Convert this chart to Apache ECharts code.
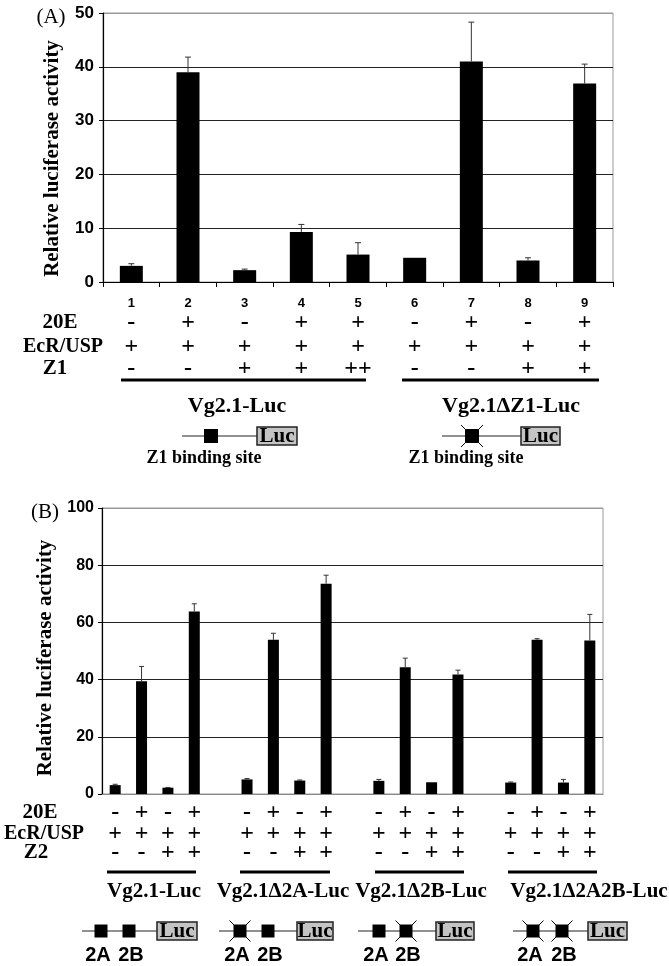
<!DOCTYPE html>
<html><head><meta charset="utf-8">
<script src="https://cdn.jsdelivr.net/npm/echarts@6/dist/echarts.min.js"></script>
<style>html,body{margin:0;padding:0;background:#fff}#c{width:669px;height:966px}</style>
</head><body><div id="c"></div>
<script>
// ---------- Panel A data ----------
const lanesA = ['1','2','3','4','5','6','7','8','9'];
const valuesA = [3.0, 39.0, 2.2, 9.3, 5.1, 4.5, 41.0, 4.0, 36.9];
const errorsA = [0.4, 2.8, 0.2, 1.4, 2.2, 0, 7.3, 0.5, 3.6];
const row20E_A = ['-','+','-','+','+','-','+','-','+'];
const rowEcR_A = ['+','+','+','+','+','+','+','+','+'];
const rowZ1_A  = ['-','-','+','+','++','-','-','+','+'];
const constructsA = ['Vg2.1-Luc','Vg2.1ΔZ1-Luc'];
const rowNamesA = ['20E','EcR/USP','Z1'];

// ---------- Panel B data ----------
const constructsB = ['Vg2.1-Luc','Vg2.1Δ2A-Luc','Vg2.1Δ2B-Luc','Vg2.1Δ2A2B-Luc'];
const valuesB_1 = [3.1, 39.4, 2.2, 63.8];
const valuesB_2 = [5.1, 53.9, 4.7, 73.5];
const valuesB_3 = [4.6, 44.3, 4.1, 41.8];
const valuesB_4 = [4.0, 53.9, 4.0, 53.7];
const errorsB_1 = [0.3, 5.2, 0.1, 2.7];
const errorsB_2 = [0.3, 2.3, 0.2, 3.0];
const errorsB_3 = [0.5, 3.2, 0.0, 1.5];
const errorsB_4 = [0.2, 0.4, 1.1, 9.1];
const row20E_B = ['-','+','-','+'];
const rowEcR_B = ['+','+','+','+'];
const rowZ2_B  = ['-','-','+','+'];
const rowNamesB = ['20E','EcR/USP','Z2'];

// ---------- build ----------
const valuesB = [valuesB_1, valuesB_2, valuesB_3, valuesB_4];
const errorsB = [errorsB_1, errorsB_2, errorsB_3, errorsB_4];
const catsB = [], barB = [], errB = [], lab20B = [], labEcB = [], labZ2B = [];
valuesB.forEach((g, gi) => {
  if (gi > 0) { catsB.push('gap' + gi); barB.push('-'); lab20B.push(''); labEcB.push(''); labZ2B.push(''); }
  g.forEach((v, i) => {
    const idx = catsB.length;
    catsB.push('b' + gi + '_' + i);
    barB.push(v);
    if (errorsB[gi][i] > 0) errB.push([idx, v, v + errorsB[gi][i]]);
    lab20B.push(row20E_B[i]); labEcB.push(rowEcR_B[i]); labZ2B.push(rowZ2_B[i]);
  });
});
const errA = [];
valuesA.forEach((v, i) => { if (errorsA[i] > 0) errA.push([i, v, v + errorsA[i]]); });

const SERIF = 'Liberation Serif', SANS = 'Liberation Sans';

function rowAxis(gridIndex, cats, labels, offset, size, family) {
  return {
    type: 'category', gridIndex, position: 'bottom', offset, data: cats,
    axisLine: {show: false}, axisTick: {show: false}, splitLine: {show: false},
    axisLabel: {interval: 0, margin: 0, verticalAlign: 'middle', color: '#000',
      fontFamily: family || SERIF, fontWeight: 'bold', fontSize: size || 24,
      formatter: (v, i) => labels[i]}
  };
}

function errRender(cap) {
  return function (params, api) {
    const x = api.value(0);
    const p0 = api.coord([x, api.value(1)]);
    const p1 = api.coord([x, api.value(2)]);
    const st = {stroke: '#333', lineWidth: 1};
    return {type: 'group', children: [
      {type: 'line', shape: {x1: p0[0], y1: p0[1], x2: p1[0], y2: p1[1]}, style: st},
      {type: 'line', shape: {x1: p1[0] - cap, y1: p1[1], x2: p1[0] + cap, y2: p1[1]}, style: st}
    ]};
  };
}

// ---------- graphics (decoration) ----------
const G = [];
function txt(x, y, s, size, family, weight, align) {
  G.push({type: 'text', x, y, style: {text: s, fill: '#000', font: (weight || 'bold') + ' ' + size + 'px "' + family + '"', textAlign: align || 'center', textVerticalAlign: 'middle'}});
}
function bar(x1, x2, y) {
  G.push({type: 'line', shape: {x1, y1: y, x2, y2: y}, style: {stroke: '#000', lineWidth: 3}});
}
function diagram(x0, x1, y, squares, bx0, bx1, s) {
  G.push({type: 'line', shape: {x1: x0, y1: y, x2: bx0, y2: y}, style: {stroke: '#222', lineWidth: 1.2}});
  squares.forEach(q => {
    G.push({type: 'rect', shape: {x: q.cx - s / 2, y: y - s / 2, width: s, height: s}, style: {fill: '#000'}});
    if (q.x) {
      const e = s / 2 + 4;
      G.push({type: 'line', shape: {x1: q.cx - e, y1: y - e, x2: q.cx + e, y2: y + e}, style: {stroke: '#000', lineWidth: 1}});
      G.push({type: 'line', shape: {x1: q.cx - e, y1: y + e, x2: q.cx + e, y2: y - e}, style: {stroke: '#000', lineWidth: 1}});
    }
  });
  G.push({type: 'rect', shape: {x: bx0, y: y - 9, width: bx1 - bx0, height: 18}, style: {fill: '#c4c4c4', stroke: '#222', lineWidth: 1.5}});
  txt((bx0 + bx1) / 2, y + 0.5, 'Luc', 21, SERIF);
}

// Panel A decorations
txt(51, 17, '(A)', 21, SERIF, 'normal');
txt(60, 323, rowNamesA[0], 21, SERIF);
txt(63, 347, rowNamesA[1], 20, SERIF);
txt(55, 369, rowNamesA[2], 21, SERIF);
bar(121, 366, 380); bar(402, 599, 380);
txt(237, 406, constructsA[0], 22, SERIF);
txt(511, 406, constructsA[1], 22, SERIF);
diagram(182, 257, 436, [{cx: 211}], 257, 297, 14);
txt(204, 458, 'Z1 binding site', 18, SERIF);
diagram(442, 521, 436, [{cx: 472, x: true}], 521, 560, 14);
txt(466, 458, 'Z1 binding site', 18, SERIF);

// Panel B decorations
txt(45, 512, '(B)', 21, SERIF, 'normal');
txt(40, 813, rowNamesB[0], 21, SERIF);
txt(44, 834, rowNamesB[1], 20, SERIF);
txt(36, 853, rowNamesB[2], 21, SERIF);
bar(107, 196, 872); bar(240, 330, 872); bar(375, 464, 872); bar(508, 597, 872);
txt(154, 892, constructsB[0], 21, SERIF);
txt(283, 892, constructsB[1], 21, SERIF);
txt(421, 892, constructsB[2], 21, SERIF);
txt(589, 892, constructsB[3], 21, SERIF);
const diagB = [
  {x0: 82, sq: [{cx: 101}, {cx: 129}], b0: 157, b1: 197},
  {x0: 219, sq: [{cx: 240, x: true}, {cx: 268}], b0: 297, b1: 333},
  {x0: 358, sq: [{cx: 379}, {cx: 406, x: true}], b0: 436, b1: 474},
  {x0: 513, sq: [{cx: 533, x: true}, {cx: 562, x: true}], b0: 588, b1: 627}
];
diagB.forEach(d => {
  diagram(d.x0, d.b0, 931, d.sq, d.b0, d.b1, 13);
  txt(d.sq[0].cx - 3, 955, '2A', 20, SANS);
  txt(d.sq[1].cx + 2, 955, '2B', 20, SANS);
});

const yName = 'Relative luciferase activity';
const option = {
  animation: false,
  backgroundColor: '#fff',
  textStyle: {fontFamily: SANS},
  grid: [
    {left: 103, top: 13, width: 510, height: 269, show: true, borderColor: '#999', borderWidth: 1, backgroundColor: 'transparent', outerBoundsMode: 'none'},
    {left: 102, top: 508, width: 501, height: 286, show: true, borderColor: '#999', borderWidth: 1, backgroundColor: 'transparent', outerBoundsMode: 'none'}
  ],
  xAxis: [
    {type: 'category', gridIndex: 0, position: 'bottom', data: lanesA,
      axisLine: {lineStyle: {color: '#000', width: 1.2}},
      axisTick: {show: true, length: 5, lineStyle: {color: '#000'}},
      axisLabel: {interval: 0, margin: 21, verticalAlign: 'middle', color: '#000', fontFamily: SANS, fontWeight: 'bold', fontSize: 13}},
    rowAxis(0, lanesA, row20E_A, 41),
    rowAxis(0, lanesA, rowEcR_A, 65),
    rowAxis(0, lanesA, rowZ1_A, 87),
    {type: 'category', gridIndex: 1, position: 'bottom', data: catsB,
      axisLine: {lineStyle: {color: '#888', width: 1.2}},
      axisTick: {show: false}, axisLabel: {show: false}},
    rowAxis(1, catsB, lab20B, 19),
    rowAxis(1, catsB, labEcB, 40),
    rowAxis(1, catsB, labZ2B, 59)
  ],
  yAxis: [
    {type: 'value', gridIndex: 0, min: 0, max: 50, interval: 10,
      name: yName, nameLocation: 'middle', nameGap: 40, nameRotate: 90,
      nameTextStyle: {fontFamily: SERIF, fontWeight: 'bold', fontSize: 21, color: '#000', padding: [0, 22, 0, 0]},
      axisLine: {show: true, lineStyle: {color: '#000', width: 1.2}},
      axisTick: {show: true, length: 4, lineStyle: {color: '#000'}},
      axisLabel: {margin: 9, color: '#000', fontFamily: SANS, fontWeight: 'bold', fontSize: 17},
      splitLine: {show: true, lineStyle: {color: ['#222','#222','#222','#222','#222','#999'], width: 1}}},
    {type: 'value', gridIndex: 1, min: 0, max: 100, interval: 20,
      name: yName, nameLocation: 'middle', nameGap: 45, nameRotate: 90,
      nameTextStyle: {fontFamily: SERIF, fontWeight: 'bold', fontSize: 21, color: '#000', padding: [0, 14, 0, 0]},
      axisLine: {show: true, lineStyle: {color: '#000', width: 1.2}},
      axisTick: {show: true, length: 4, lineStyle: {color: '#000'}},
      axisLabel: {margin: 8, color: '#000', fontFamily: SANS, fontWeight: 'bold', fontSize: 16},
      splitLine: {show: true, lineStyle: {color: ['#222','#222','#222','#222','#222','#999'], width: 1}}}
  ],
  series: [
    {type: 'bar', xAxisIndex: 0, yAxisIndex: 0, data: valuesA, barWidth: 23, itemStyle: {color: '#000'}},
    {type: 'custom', xAxisIndex: 0, yAxisIndex: 0, data: errA, encode: {x: 0, y: [1, 2]}, renderItem: errRender(3), z: 5},
    {type: 'bar', xAxisIndex: 4, yAxisIndex: 1, data: barB, barWidth: 11, itemStyle: {color: '#000'}},
    {type: 'custom', xAxisIndex: 4, yAxisIndex: 1, data: errB, encode: {x: 0, y: [1, 2]}, renderItem: errRender(2.5), z: 5}
  ],
  graphic: G
};
const chart = echarts.init(document.getElementById('c'), null, {renderer: 'canvas'});
chart.setOption(option);
</script></body></html>
